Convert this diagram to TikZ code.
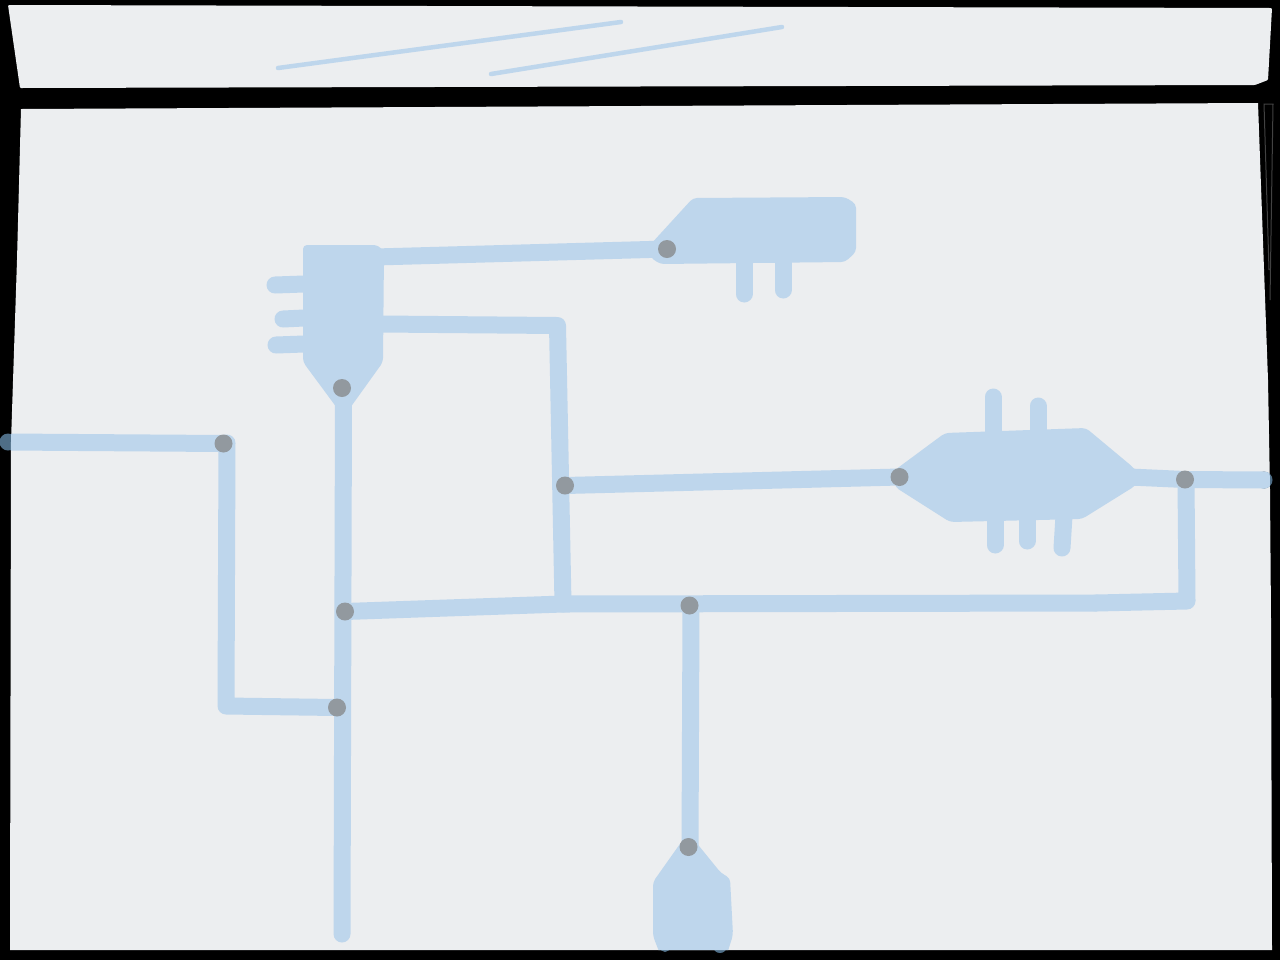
\documentclass[tikz,border=0pt]{standalone}
\newlength{\du}
\setlength{\du}{0.5pt}
\definecolor{panecolor}{rgb}{0.925000, 0.933000, 0.941000}
\definecolor{pipecolor}{rgb}{0.745000, 0.839000, 0.925000}
\definecolor{pipedarkcolor}{rgb}{0.310000, 0.430000, 0.530000}
\definecolor{jointcolor}{rgb}{0.573000, 0.600000, 0.624000}
\definecolor{scratchcolor}{rgb}{0.260000, 0.260000, 0.260000}
\pgfdeclarelayer{pipes}
\pgfsetlayers{pipes,main}
\newcommand{\lowerpane}{(21\du,109\du)--(1258\du,103\du)--(1268\du,380\du)--(1270\du,490\du)--(1271\du,620\du)--(1272\du,950\du)--(10\du,950\du)--(11\du,442\du)--(17\du,260\du)--cycle}
\tikzset{
  pane/.style={fill=panecolor,rounded corners=1\du},
  pipe/.style={draw=pipecolor,line width=17\du,line cap=round,line join=round},
  stub/.style={draw=pipecolor,line width=17\du,line cap=round},
  sliver/.style={draw=pipecolor,line width=4.5\du,line cap=round},
  blob/.style={fill=pipecolor,rounded corners=4\du},
  scratch/.style={draw=scratchcolor,line width=1\du},
  joint/.style={circle,fill=jointcolor,draw=none,inner sep=0pt,minimum size=18\du}
}
\begin{document}
\begin{tikzpicture}
\pgftransformxscale{1.000000}
\pgftransformyscale{-1.000000}
\useasboundingbox (0\du,0\du) rectangle (1280\du,960\du);
% joints
\node[joint] (topjoint) at (342\du,388\du) {};
\node[joint] (leftjoint) at (223.5\du,443.5\du) {};
\node[joint] (crossjoint) at (345\du,611.5\du) {};
\node[joint] (lowjoint) at (337\du,707.5\du) {};
\node[joint] (plugjoint) at (667\du,249\du) {};
\node[joint] (midjoint) at (565\du,485.5\du) {};
\node[joint] (valvejoint) at (899.5\du,477\du) {};
\node[joint] (rightjoint) at (1185\du,479.5\du) {};
\node[joint] (busjoint) at (689.5\du,605.5\du) {};
\node[joint] (footjoint) at (688.5\du,847\du) {};
% free ends
\coordinate (leftend) at (8\du,442\du);
\coordinate (leftcorner) at (227\du,443\du);
\coordinate (leftbend) at (226\du,706\du);
\coordinate (mainstart) at (343.5\du,395\du);
\coordinate (mainend) at (342\du,934\du);
\coordinate (busstart) at (563\du,604\du);
\coordinate (busseam) at (1096\du,603\du);
\coordinate (buscorner) at (1187\du,601\du);
\coordinate (rightend) at (1264\du,480\du);
\coordinate (risetop) at (1186\du,480\du);
\coordinate (valveout) at (1130\du,477\du);
\coordinate (headtop) at (375\du,257\du);
\coordinate (headside) at (380\du,324\du);
\coordinate (risebend) at (557.5\du,325.5\du);
\coordinate (dropstart) at (691\du,610\du);
\coordinate (dropend) at (690\du,850\du);
\begin{pgfonlayer}{pipes}
\fill[black] (0\du,0\du) rectangle (1280\du,960\du);
\fill[pane] (8\du,5\du)--(1272\du,8\du)--(1268\du,80\du)--(1255\du,85\du)--(20\du,88\du)--cycle;
\fill[panecolor] \lowerpane;
\draw[scratch] (1269\du,270\du)--(1264\du,104\du)--(1273\du,104\du)--(1270\du,300\du);
\draw[sliver] (278\du,68\du)--(621\du,22\du);
\draw[sliver] (491\du,74\du)--(782\du,27\du);
% ends over the frame
\fill[pipedarkcolor] (8\du,442\du) circle (8.5\du);
\fill[pipedarkcolor] (1264\du,480\du) circle (8.5\du);
\fill[pipedarkcolor] (665\du,947\du) circle (5\du);
\fill[pipedarkcolor] (720\du,946\du) circle (7\du);
\begin{scope}
\clip \lowerpane;
% runs
\draw[pipe] (leftend)--(leftjoint.center)--(leftcorner)--(leftbend)--(lowjoint.center);
\draw[pipe] (mainstart)--(mainend);
\draw[pipe] (crossjoint.center)--(busstart)--(busseam);
\draw[pipe] (busseam)--(buscorner)--(risetop);
\draw[pipe] (headside)--(risebend)--(busstart);
\draw[pipe] (midjoint.center)--(valvejoint.center);
\draw[pipe] (headtop)--(plugjoint.center);
\draw[pipe] (valveout)--(rightjoint.center)--(rightend);
\draw[pipe] (dropstart)--(dropend);
% head
\fill[blob] (303\du,245\du)--(378\du,245\du)--(384\du,252\du)--(383\du,362\du)--(350\du,408\du)--(337\du,408\du)--(303\du,362\du)--cycle;
\draw[stub] (275\du,285\du)--(304\du,284\du);
\draw[stub] (283\du,319\du)--(304\du,318\du);
\draw[stub] (276\du,345\du)--(304\du,344\du);
% plug
\fill[blob] (650\du,245\du)--(693\du,198\du)--(845\du,197\du)--(856\du,204\du)--(856\du,252\du)--(845\du,262\du)--(660\du,264\du)--(650\du,257\du)--cycle;
\draw[stub] (744\du,260\du)--(744\du,294\du);
\draw[stub] (783\du,260\du)--(783\du,290\du);
% valve
\fill[blob] (895\du,470\du)--(945\du,433\du)--(1086\du,428\du)--(1134\du,468\du)--(1140\du,478\du)--(1135\du,486\du)--(1082\du,519\du)--(950\du,522\du)--(895\du,487\du)--cycle;
\draw[stub] (993\du,397\du)--(993\du,436\du);
\draw[stub] (1038\du,406\du)--(1038\du,434\du);
\draw[stub] (995\du,518\du)--(995\du,545\du);
\draw[stub] (1027\du,518\du)--(1027\du,541\du);
\draw[stub] (1064\du,516\du)--(1062\du,548\du);
% foot
\fill[blob] (682\du,841\du)--(695\du,841\du)--(721\du,873\du)--(730\du,878\du)--(733\du,935\du)--(727\du,954\du)--(660\du,954\du)--(653\du,936\du)--(653\du,882\du)--cycle;
\end{scope}
\end{pgfonlayer}
\end{tikzpicture}
\end{document}
